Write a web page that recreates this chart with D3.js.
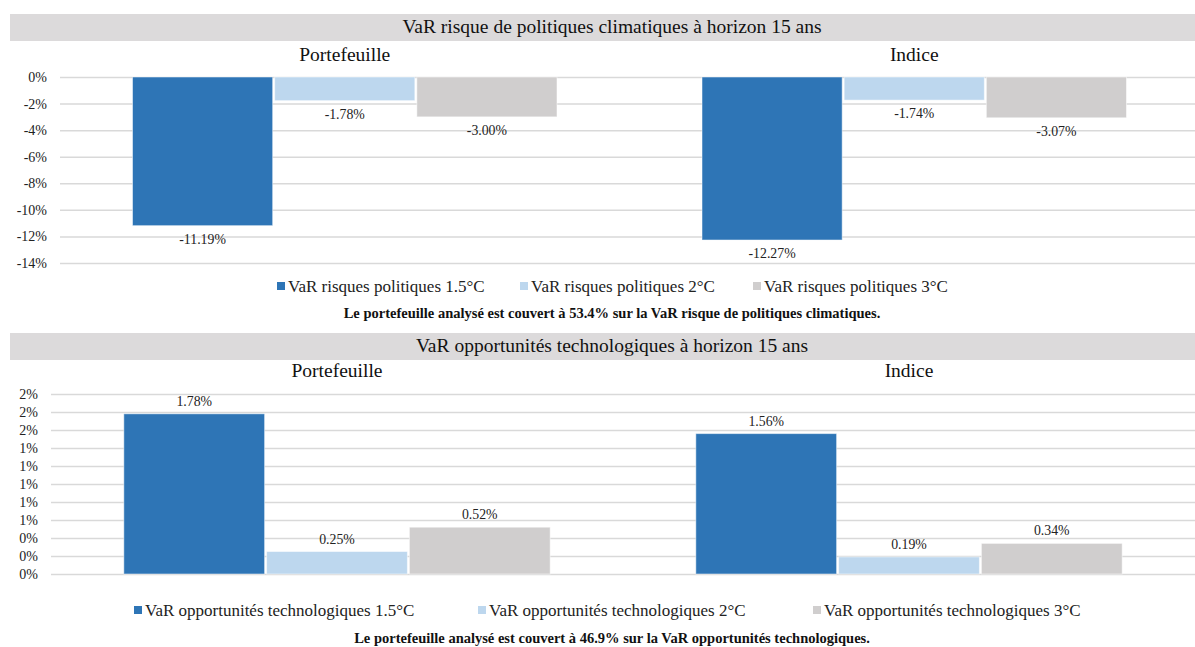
<!DOCTYPE html>
<html>
<head>
<meta charset="utf-8">
<script src="https://cdnjs.cloudflare.com/ajax/libs/d3/7.8.5/d3.min.js"></script>
<style>
    body { margin: 0; background: #fff; }
    svg { display: block; font-family: "Liberation Serif", "DejaVu Serif", serif; }
</style>
</head>
<body>
<script>
"use strict";
(function(){
    // Groups and series
    const groups = ["Portefeuille", "Indice"];
    const colors = ["#2e75b6", "#bdd7ee", "#d0cece"];

    // Risk panel data
    const riskSeries = ["VaR risques politiques 1.5°C", "VaR risques politiques 2°C", "VaR risques politiques 3°C"];
    const riskPortefeuille = [-11.19, -1.78, -3.00];
    const riskIndice = [-12.27, -1.74, -3.07];
    const riskTicks = [0, -2, -4, -6, -8, -10, -12, -14];

    // Opportunity panel data
    const oppSeries = ["VaR opportunités technologiques 1.5°C", "VaR opportunités technologiques 2°C", "VaR opportunités technologiques 3°C"];
    const oppPortefeuille = [1.78, 0.25, 0.52];
    const oppIndice = [1.56, 0.19, 0.34];
    const oppTicks = [0, 0.2, 0.4, 0.6, 0.8, 1.0, 1.2, 1.4, 1.6, 1.8, 2.0];

    const width = 1195, height = 647;

    const svg = d3.select("body").append("svg")
        .attr("width", width)
        .attr("height", height);

    drawPanel({
        title: "VaR risque de politiques climatiques à horizon 15 ans",
        titleTop: 14,
        values: [riskPortefeuille, riskIndice],
        series: riskSeries,
        ticks: riskTicks,
        domain: [-14, 0],
        yRange: [263, 77],
        xRange: [60, 1199],
        labelX: 47,
        subY: 61,
        legendY: 286,
        legendX: [277, 520, 753],
        legendSize: 17,
        note: "Le portefeuille analysé est couvert à 53.4% sur la VaR risque de politiques climatiques.",
        noteY: 318,
        fmt: d => d.toFixed(0) + "%"
    });

    drawPanel({
        title: "VaR opportunités technologiques à horizon 15 ans",
        titleTop: 333,
        values: [oppPortefeuille, oppIndice],
        series: oppSeries,
        ticks: oppTicks,
        domain: [0, 2],
        yRange: [574, 394],
        xRange: [51, 1195],
        labelX: 38,
        subY: 377,
        legendY: 610,
        legendX: [134, 478, 813],
        legendSize: 17,
        note: "Le portefeuille analysé est couvert à 46.9% sur la VaR opportunités technologiques.",
        noteY: 643,
        fmt: d => d.toFixed(0) + "%"
    });

    function drawPanel(cfg) {
        const g = svg.append("g");

        // Title band
        g.append("rect")
            .attr("x", 10)
            .attr("y", cfg.titleTop)
            .attr("width", width - 10)
            .attr("height", 27)
            .attr("fill", "#dcdadb");
        g.append("text")
            .attr("x", 612)
            .attr("y", cfg.titleTop + 19)
            .attr("text-anchor", "middle")
            .attr("font-size", 19.5)
            .attr("fill", "#111")
            .text(cfg.title);

        const y = d3.scaleLinear().domain(cfg.domain).range(cfg.yRange);
        const x0 = d3.scaleBand().domain(groups).range(cfg.xRange);
        const x1 = d3.scaleBand().domain([0, 1, 2])
            .range([0, x0.bandwidth()])
            .paddingInner(0.014)
            .paddingOuter(0.51);

        // Grid lines + tick labels
        const axis = d3.axisLeft(y)
            .tickValues(cfg.ticks)
            .tickSize(-(width - cfg.xRange[0]))
            .tickFormat(cfg.fmt);
        const ax = g.append("g")
            .attr("transform", `translate(${cfg.xRange[0]},0)`)
            .call(axis);
        ax.select(".domain").remove();
        ax.selectAll(".tick line")
            .attr("stroke", "#d9d9d9")
            .attr("stroke-width", 1.5);
        ax.selectAll(".tick text")
            .attr("x", cfg.labelX - cfg.xRange[0])
            .attr("font-family", "Liberation Serif")
            .attr("font-size", 14)
            .attr("fill", "#222");

        // Group subtitles
        g.selectAll(".sub")
            .data(groups)
            .enter()
            .append("text")
            .attr("class", "sub")
            .attr("x", d => x0(d) + x0.bandwidth() / 2)
            .attr("y", cfg.subY)
            .attr("text-anchor", "middle")
            .attr("font-size", 19.5)
            .attr("fill", "#111")
            .text(d => d);

        // Bars
        const grp = g.selectAll(".grp")
            .data(groups)
            .enter()
            .append("g")
            .attr("transform", d => `translate(${x0(d)},0)`);

        grp.each(function(d, gi) {
            const vals = cfg.values[gi].map((v, i) => ({ v: v, i: i }));
            const sel = d3.select(this);
            sel.selectAll("rect")
                .data(vals)
                .enter()
                .append("rect")
                .attr("x", e => x1(e.i))
                .attr("width", x1.bandwidth())
                .attr("y", e => y(Math.max(0, e.v)))
                .attr("height", e => Math.abs(y(e.v) - y(0)))
                .attr("fill", e => colors[e.i])
                .attr("stroke", "#ffffff")
                .attr("stroke-opacity", 0.5)
                .attr("stroke-width", 1);
            sel.selectAll("text")
                .data(vals)
                .enter()
                .append("text")
                .attr("x", e => x1(e.i) + x1.bandwidth() / 2)
                .attr("y", e => e.v < 0 ? y(e.v) + 18 : y(e.v) - 8)
                .attr("text-anchor", "middle")
                .attr("font-size", 13.8)
                .attr("fill", "#222")
                .text(e => e.v.toFixed(2) + "%");
        });

        // Legend
        const leg = g.selectAll(".leg")
            .data(cfg.series)
            .enter()
            .append("g")
            .attr("transform", (d, i) => `translate(${cfg.legendX[i]},${cfg.legendY})`);
        leg.append("rect")
            .attr("x", 0)
            .attr("y", -4)
            .attr("width", 8)
            .attr("height", 8)
            .attr("fill", (d, i) => colors[i]);
        leg.append("text")
            .attr("x", 11)
            .attr("y", 6)
            .attr("font-size", cfg.legendSize)
            .attr("fill", "#222")
            .text(d => d);

        // Footnote
        g.append("text")
            .attr("x", 612)
            .attr("y", cfg.noteY)
            .attr("text-anchor", "middle")
            .attr("font-size", 14.5)
            .attr("font-weight", "bold")
            .attr("fill", "#111")
            .text(cfg.note);
    }
})()
</script>
</body>
</html>
